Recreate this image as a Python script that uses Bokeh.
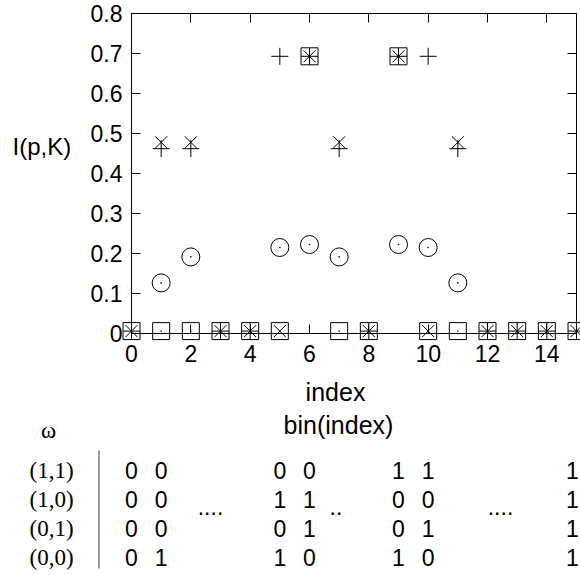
from bokeh.plotting import figure
from bokeh.models import Range1d, FixedTicker, LinearAxis
from bokeh.embed import file_html
from bokeh.resources import INLINE
from bokeh.core.properties import value

# ---------------- data ----------------
index = [0, 1, 2, 3, 4, 5, 6, 7, 8, 9, 10, 11, 12, 13, 14, 15]
plus_vals = [0.006, 0.462, 0.462, 0.006, 0.006, 0.693, 0.693, 0.462,
             0.006, 0.693, 0.693, 0.462, 0.006, 0.006, 0.006, 0.006]
cross_vals = [0.006, 0.478, 0.478, 0.006, 0.006, 0.006, 0.693, 0.478,
              0.006, 0.693, 0.006, 0.478, 0.006, 0.006, 0.006, 0.006]
square_vals = [0.006, 0.006, 0.006, 0.006, 0.006, 0.006, 0.693, 0.006,
               0.006, 0.693, 0.006, 0.006, 0.006, 0.006, 0.006, 0.006]
circle_index = [1, 2, 5, 6, 7, 9, 10, 11]
circle_vals = [0.1265, 0.1915, 0.215, 0.2225, 0.1915, 0.2225, 0.215, 0.1265]

y_ticks = [0, 0.1, 0.2, 0.3, 0.4, 0.5, 0.6, 0.7, 0.8]
y_tick_labels = ["0", "0.1", "0.2", "0.3", "0.4", "0.5", "0.6", "0.7", "0.8"]
x_ticks = [0, 2, 4, 6, 8, 10, 12, 14]
x_tick_labels = ["0", "2", "4", "6", "8", "10", "12", "14"]

omega_labels = ["(1,1)", "(1,0)", "(0,1)", "(0,0)"]
bin_columns = [0, 1, 5, 6, 9, 10, 15]
bin_rows = [
    ["0", "0", "0", "0", "1", "1", "1"],
    ["0", "0", "1", "1", "0", "0", "1"],
    ["0", "0", "0", "1", "0", "1", "1"],
    ["0", "1", "1", "0", "1", "0", "1"],
]
ellipsis_text = ["....", "..", "...."]

# ---------------- layout helpers (canvas pixel -> data) ----------------
W, H = 580, 575
FRAME_LEFT, FRAME_RIGHT = 131, 576
FRAME_TOP, FRAME_BOTTOM = 13, 333
PX_PER_X = (FRAME_RIGHT - FRAME_LEFT) / 15.0
PX_PER_Y = (FRAME_BOTTOM - FRAME_TOP) / 0.8


def xd(px):
    return (px - FRAME_LEFT) / PX_PER_X


def yd(py):
    return (FRAME_BOTTOM - py) / PX_PER_Y


SANS = "Liberation Sans"
SERIF = "Liberation Serif"

p = figure(width=W, height=H, x_range=Range1d(0, 15), y_range=Range1d(0, 0.8),
           output_backend="svg", toolbar_location=None,
           min_border_left=FRAME_LEFT, min_border_right=W - FRAME_RIGHT,
           min_border_top=FRAME_TOP, min_border_bottom=H - FRAME_BOTTOM)
p.background_fill_color = "white"
p.border_fill_color = "white"
p.outline_line_color = "black"
p.outline_line_width = 1
p.grid.visible = False

# bottom / left axes
p.xaxis.ticker = FixedTicker(ticks=x_ticks, minor_ticks=[])
p.xaxis.major_label_overrides = {t: l for t, l in zip(x_ticks, x_tick_labels)}
p.yaxis.ticker = FixedTicker(ticks=y_ticks, minor_ticks=[])
p.yaxis.major_label_overrides = {t: l for t, l in zip(y_ticks, y_tick_labels)}
for ax in (p.xaxis, p.yaxis):
    ax.major_tick_in = 9
    ax.major_tick_out = 0
    ax.minor_tick_in = 0
    ax.minor_tick_out = 0
    ax.axis_line_color = "black"
    ax.major_tick_line_color = "black"
    ax.major_label_text_font = SANS
    ax.major_label_text_font_size = "23px"
    ax.major_label_text_color = "black"
p.xaxis.major_label_standoff = 11
p.yaxis.major_label_standoff = 9

# mirrored axes (ticks only, no labels)
top_axis = LinearAxis(ticker=FixedTicker(ticks=x_ticks, minor_ticks=[]))
right_axis = LinearAxis(ticker=FixedTicker(ticks=y_ticks, minor_ticks=[]))
for ax, ticks in ((top_axis, x_ticks), (right_axis, y_ticks)):
    ax.major_tick_in = 9
    ax.major_tick_out = 0
    ax.minor_tick_in = 0
    ax.minor_tick_out = 0
    ax.major_label_overrides = {t: "" for t in ticks}
    ax.major_label_text_font_size = "1px"
    ax.major_label_standoff = 0
    ax.axis_line_color = "black"
    ax.major_tick_line_color = "black"
p.add_layout(top_axis, "above")
p.add_layout(right_axis, "right")

# ---------------- markers ----------------
style = dict(fill_color=None, line_color="black", line_width=1)
rs = []
rs.append(p.scatter(index, square_vals, marker="square", size=17, **style))
rs.append(p.scatter(index, cross_vals, marker="x", size=17, **style))
rs.append(p.scatter(index, plus_vals, marker="cross", size=17, **style))
rs.append(p.scatter(circle_index, circle_vals, marker="circle", size=18, **style))
rs.append(p.scatter(index, square_vals, marker="circle", size=1.6,
                    fill_color="black", line_color=None))
rs.append(p.scatter(circle_index, circle_vals, marker="circle", size=1.6,
                    fill_color="black", line_color=None))
for r in rs:
    r.level = "overlay"


# ---------------- texts (unclipped text glyphs) ----------------
def add_text(xs, ys, texts, font, size, align, x_offset=0):
    r = p.text(x=xs, y=ys, text=texts, text_font=value(font),
               text_font_size=value(size), text_align=align,
               text_baseline="alphabetic", text_color="black",
               x_offset=x_offset)
    r.level = "overlay"
    return r


add_text([xd(12)], [yd(146)], ["I(p,K)"], SANS, "24px", "left")
add_text([xd(335)], [yd(391)], ["index"], SANS, "25px", "center")
add_text([xd(338)], [yd(424)], ["bin(index)"], SANS, "25px", "center")
add_text([xd(48)], [yd(430)], ["\u03c9"], SERIF, "23px", "center")

row_baselines = [470, 499, 528, 557]
add_text([xd(29)] * 4, [yd(b) for b in row_baselines], omega_labels,
         SERIF, "23px", "left")

bx, by, bt, bo = [], [], [], []
for b, row in zip(row_baselines, bin_rows):
    for c, t in zip(bin_columns, row):
        bx.append(c)
        by.append(yd(b))
        bt.append(t)
        bo.append(-4 if c == bin_columns[-1] else 0)
add_text(bx, by, bt, SANS, "23px", "center", x_offset=bo)

add_text([xd(210), xd(335.5), xd(500)], [yd(506)] * 3, ellipsis_text,
         SANS, "23px", "center")

sep = p.segment(x0=[xd(98.5)], y0=[yd(450)], x1=[xd(98.5)], y1=[yd(568)],
                line_color="#333333", line_width=1)
sep.level = "overlay"

open("out.html", "w").write(file_html(p, INLINE))
